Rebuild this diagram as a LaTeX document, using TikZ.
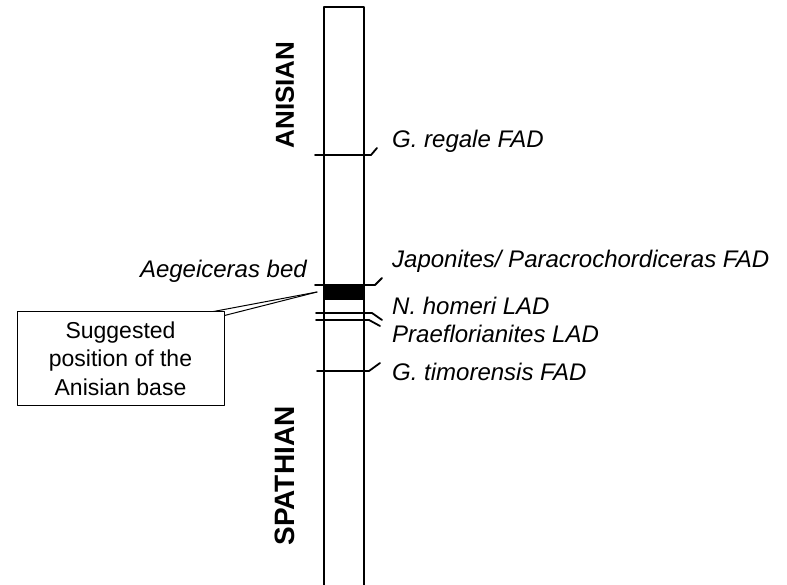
\documentclass[tikz,border=0pt]{standalone}
\usepackage{fontspec}
\setmainfont{Liberation Sans}
\begin{document}
\begin{tikzpicture}[x=1pt,y=-1pt,line cap=round,line join=round,
  lbl/.style={font=\fontsize{24}{28}\selectfont\itshape,anchor=base west,inner sep=0pt},
  stage/.style={font=\fontsize{26}{30}\selectfont\bfseries,rotate=90,inner sep=0pt},
  colline/.style={line width=1.9pt},
  horizon/.style={line width=1.8pt},
  callout/.style={draw,line width=1pt,minimum width=207pt,minimum height=93pt,align=center,inner sep=0pt,font=\fontsize{23}{28.5}\selectfont}]
\useasboundingbox (0,0) rectangle (787,585);
\fill[white] (0,0) rectangle (787,585);
% column
\draw[colline] (324,585) -- (324,7) -- (364,7) -- (364,585);
% stage names
\node[stage] (anis) at (285,95) {ANISIAN};
\node[stage,font=\fontsize{28}{32}\selectfont\bfseries] (spath) at (285,476) {SPATHIAN};
% band
\fill (324,285) rectangle (364,300);
% horizons
\coordinate (rg) at (377,148);
\draw[horizon] (315,155) -- (371,155) -- (rg);
\coordinate (jp) at (382,278);
\draw[horizon] (315,285) -- (375,285) -- (jp);
\coordinate (nh) at (382,320);
\draw[horizon] (316,313) -- (372,313) -- (nh);
\coordinate (pf) at (380,326);
\draw[horizon] (316,320) -- (369,320) -- (pf);
\coordinate (tm) at (380,363);
\draw[horizon] (317,371) -- (369,371) -- (tm);
% labels
\node[lbl] (lrg) at (392,148) {G. regale FAD};
\node[lbl] (ljp) at (392,268) {Japonites/ Paracrochordiceras FAD};
\node[lbl] (lnh) at (392,315) {N. homeri LAD};
\node[lbl] (lpf) at (392,342) {Praeflorianites LAD};
\node[lbl] (ltm) at (392,380) {G. timorensis FAD};
\node[font=\fontsize{24}{28}\selectfont\itshape,anchor=base east,inner sep=0pt] (aeg) at (307,278) {Aegeiceras bed};
% callout
\node[callout] (box) at (120.5,358.5) {Suggested\\position of the\\Anisian base};
\coordinate (apex) at (317,292);
\draw[line width=1pt] ([xshift=-11pt]box.north east) -- (apex);
\draw[line width=1pt] ([yshift=-4pt]box.north east) -- (apex);
\end{tikzpicture}
\end{document}
